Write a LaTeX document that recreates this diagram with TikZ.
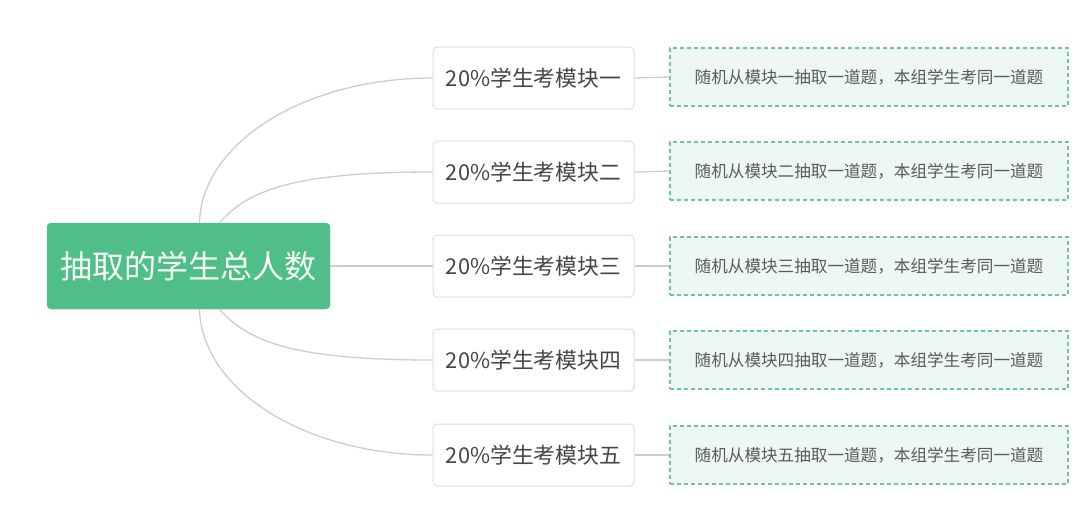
\documentclass[tikz,border=0pt]{standalone}
\usepackage{fontspec}
\usetikzlibrary{calc}
\newfontfamily\cjk{Noto Sans CJK SC}
\definecolor{rootgreen}{RGB}{80,190,136}
\definecolor{linegray}{RGB}{205,205,205}
\definecolor{boxgray}{RGB}{222,222,222}
\definecolor{dashgreen}{RGB}{110,196,155}
\definecolor{lightfill}{RGB}{238,248,243}
\definecolor{txtgray}{RGB}{70,70,70}
\definecolor{txtgray2}{RGB}{90,90,90}
\tikzset{
  rootbox/.style={fill=rootgreen, draw=rootgreen, rounded corners=4pt, minimum width=283pt, minimum height=86pt, inner sep=0pt, text=white!96!green, font=\cjk\fontsize{32}{36}\selectfont},
  modbox/.style={draw=boxgray, line width=1pt, fill=white, rounded corners=4pt, minimum width=201pt, minimum height=62pt, inner sep=0pt, text=txtgray, font=\cjk\fontsize{21.8}{26}\selectfont},
  notebox/.style={draw=dashgreen, dash pattern=on 4pt off 3pt, line width=1.5pt, fill=lightfill, minimum width=398pt, minimum height=58pt, inner sep=0pt, text=txtgray2, font=\cjk\fontsize{16.6}{20}\selectfont},
  conn/.style={draw=linegray, line width=1.3pt}
}
\begin{document}
\begin{tikzpicture}[x=1pt,y=-1pt]
\useasboundingbox (0,0) rectangle (1092,515);
\node[rootbox] (root) at (188.5,266) {抽取的学生总人数};
\node[modbox] (m1) at (533.5,78) {20\%学生考模块一};
\node[modbox] (m2) at (533.5,172) {20\%学生考模块二};
\node[modbox] (m3) at (533.5,266) {20\%学生考模块三};
\node[modbox] (m4) at (533.5,360) {20\%学生考模块四};
\node[modbox] (m5) at (533.5,455) {20\%学生考模块五};
\node[notebox] (n1) at (869,77) {随机从模块一抽取一道题，本组学生考同一道题};
\node[notebox] (n2) at (869,171) {随机从模块二抽取一道题，本组学生考同一道题};
\node[notebox] (n3) at (869,266) {随机从模块三抽取一道题，本组学生考同一道题};
\node[notebox] (n4) at (869,360) {随机从模块四抽取一道题，本组学生考同一道题};
\node[notebox] (n5) at (869,455) {随机从模块五抽取一道题，本组学生考同一道题};
\coordinate (r1) at ([xshift=11pt]root.north);
\coordinate (r2) at ([xshift=31pt]root.north);
\coordinate (r4) at ([xshift=31pt]root.south);
\coordinate (r5) at ([xshift=11pt]root.south);
\draw[conn] (r1) .. controls ($(r1)+(2,-80)$) and ($(m1.west)+(-128,0)$) .. (m1.west);
\draw[conn] (r2) .. controls ($(r2)+(28,-32)$) and ($(m2.west)+(-140,0)$) .. (m2.west);
\draw[conn] (root.east) -- (m3.west);
\draw[conn] (r4) .. controls ($(r4)+(28,32)$) and ($(m4.west)+(-140,0)$) .. (m4.west);
\draw[conn] (r5) .. controls ($(r5)+(2,80)$) and ($(m5.west)+(-128,0)$) .. (m5.west);
\foreach \i in {1,...,5} {
  \draw[conn] (m\i.east) -- (n\i.west);
}
\end{tikzpicture}
\end{document}
